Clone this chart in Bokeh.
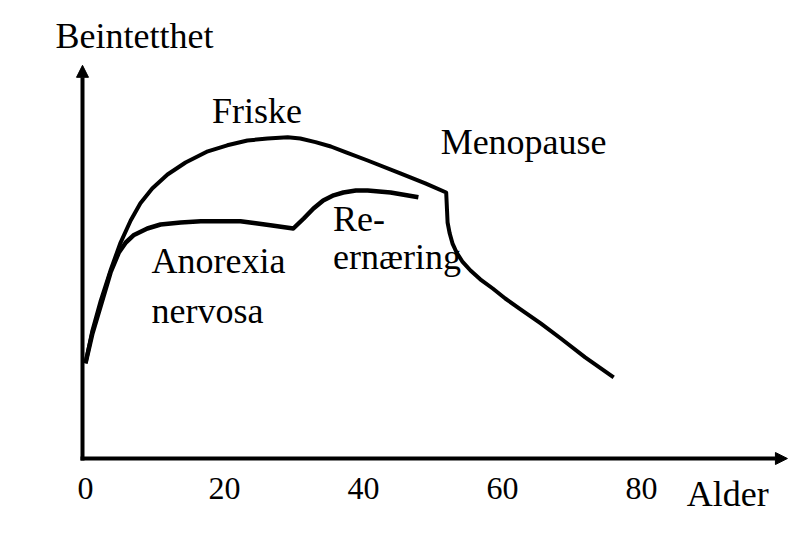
from bokeh.plotting import figure
from bokeh.models import Range1d, Arrow, NormalHead, Label
from bokeh.core.properties import value
from bokeh.embed import file_html
from bokeh.resources import INLINE

# --- data (age in years, bone density in arbitrary units) ---
friske_alder = [0, 1.0, 2.2, 3.6, 5.0, 6.5, 7.9, 9.6, 11.8, 14.4, 17.6, 20.4, 23.3,
                26.2, 29.1, 30.9, 33.1, 35.3, 37.4, 40.6, 45.3, 48.9, 51.9,
                52.1, 52.4, 52.8, 53.4, 54.2, 55.4, 56.8, 58.6, 60.4, 62.6, 65.5,
                68.4, 71.9, 76.0]
friske_tetthet = [23.8, 32, 39.5, 47, 53.8, 59.5, 63.8, 67.5, 71, 74, 76.8, 78.3, 79.5,
                  80, 80.3, 80, 79.1, 78, 76.6, 74.5, 71.3, 68.8, 66.5,
                  59, 56.3, 53.8, 51.5, 49.3, 47, 44.8, 42.5, 40, 37.3, 33.8,
                  30, 25.3, 20.3]

anoreksi_alder = [0, 1.0, 2.2, 3.6, 4.8, 5.8, 6.9, 8.9, 10.8, 13.7, 16.6, 19.4, 22.3,
                  24.5, 26.6, 29.9, 31.4, 32.8, 34.2, 35.7, 37.1, 38.9, 40.6,
                  43.9, 47.9]
anoreksi_tetthet = [23.8, 31.3, 38.3, 46.5, 51.5, 54, 55.8, 57.5, 58.5, 59, 59.3, 59.3, 59.3,
                    58.8, 58.3, 57.5, 60, 62.5, 64.5, 65.8, 66.5, 67, 67,
                    66.5, 65.3]

alder_ticks = [0, 20, 40, 60, 80]
tick_labels = ["0", "20", "40", "60", "80"]

FONT = value("Liberation Serif")

p = figure(width=810, height=540, output_backend="svg", toolbar_location=None,
           x_axis_type=None, y_axis_type=None,
           x_range=Range1d(-12.23, 104.32), y_range=Range1d(-20.5, 114.5),
           min_border=0, outline_line_color=None)
p.grid.visible = False
p.background_fill_color = "white"
p.border_fill_color = "white"

# axes drawn as arrows
head = dict(size=12, fill_color="black", line_color="black", line_width=1)
p.add_layout(Arrow(end=NormalHead(**head), x_start=-0.43, y_start=-0.5,
                   x_end=-0.43, y_end=98.3, line_width=4, line_color="black"))
p.add_layout(Arrow(end=NormalHead(**head), x_start=-0.72, y_start=0,
                   x_end=101.0, y_end=0, line_width=4, line_color="black"))

# curves
p.line(friske_alder, friske_tetthet, line_width=4, line_color="black",
       line_join="round")
p.line(anoreksi_alder, anoreksi_tetthet, line_width=4.5, line_color="black",
       line_join="round")

# tick labels
p.text(x=alder_ticks, y=-7.6, text=tick_labels, text_font=FONT,
       text_font_size="32px", text_align="center", text_baseline="alphabetic",
       text_color="black")

def lab(txt, x, y):
    p.add_layout(Label(x=x, y=y, text=txt, text_font="Liberation Serif",
                       text_font_size="36px", text_align="left",
                       text_baseline="alphabetic", text_color="black"))

lab("Beintetthet", -4.3, 105.75)
lab("Alder", 86.5, -8.75)
lab("Friske", 18.2, 87)
lab("Menopause", 51.1, 79.25)
lab("Anorexia", 9.5, 49.5)
lab("nervosa", 9.5, 37)
lab("Re-", 35.6, 60)
lab("ernæring", 35.6, 50.3)

open("out.html", "w").write(file_html(p, INLINE))
